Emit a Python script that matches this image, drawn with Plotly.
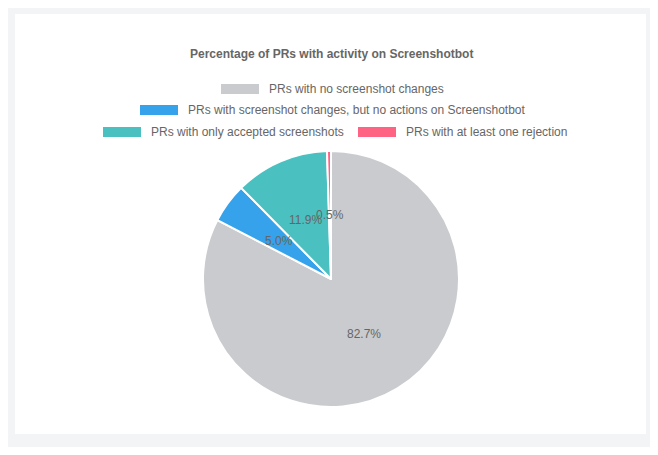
import math
import plotly.graph_objects as go

labels = ["PRs with no screenshot changes",
          "PRs with screenshot changes, but no actions on Screenshotbot",
          "PRs with only accepted screenshots",
          "PRs with at least one rejection"]
values = [82.7, 5.0, 11.9, 0.5]
colors = ["rgb(201,203,207)", "rgb(54,162,235)", "rgb(75,192,192)", "rgb(255,99,132)"]
title = "Percentage of PRs with activity on Screenshotbot"

OFF = 8  # page body margin
W, H = 658 - 2 * OFF, 455 - 2 * OFF
def px(x): return (x - OFF) / W
def py(y): return 1 - (y - OFF) / H

cx, cy, r = 331, 279, 128
fig = go.Figure(go.Pie(
    labels=labels, values=values, sort=False, direction="clockwise", rotation=0,
    marker=dict(colors=colors, line=dict(color="white", width=2)),
    textinfo="none", hoverinfo="label+percent", showlegend=False,
    domain=dict(x=[px(cx - r), px(cx + r)], y=[py(cy + r), py(cy - r)])))

shapes = [dict(type="rect", xref="paper", yref="paper", x0=px(15), x1=px(646),
               y0=py(434), y1=py(14), fillcolor="white", line=dict(width=0), layer="below")]
ann = [dict(text="<b>" + title + "</b>", x=px(331), y=py(54), xref="paper", yref="paper",
            xanchor="center", yanchor="middle", showarrow=False, font=dict(size=12, color="#666"))]

total = sum(values)
start = 0.0
for v in values:
    mid = start + v / total * 360 / 2
    start += v / total * 360
    a = math.radians(mid)
    x = cx + r / 2 * math.sin(a)
    y = cy - r / 2 * math.cos(a)
    ann.append(dict(text=f"{v:.1f}%", x=px(x), y=py(y), xref="paper", yref="paper",
                    xanchor="center", yanchor="middle",
                    showarrow=False, font=dict(size=12, color="#666")))

legpos = [(221, 89), (140, 110), (103, 132), (358, 132)]
for lab, col, (x0, y0) in zip(labels, colors, legpos):
    shapes.append(dict(type="rect", xref="paper", yref="paper", x0=px(x0), x1=px(x0 + 38),
                       y0=py(y0 + 5), y1=py(y0 - 5), fillcolor=col, line=dict(width=0)))
    ann.append(dict(text=lab, x=px(x0 + 46), y=py(y0), xref="paper", yref="paper",
                    xanchor="left", yanchor="middle", showarrow=False,
                    font=dict(size=12, color="#666")))

fig.update_layout(width=W, height=H, margin=dict(l=0, r=0, t=0, b=0),
                  paper_bgcolor="#f3f4f6", plot_bgcolor="#f3f4f6",
                  font=dict(family="Liberation Sans, Arial, sans-serif"),
                  shapes=shapes, annotations=ann)
fig.write_html("out.html")
